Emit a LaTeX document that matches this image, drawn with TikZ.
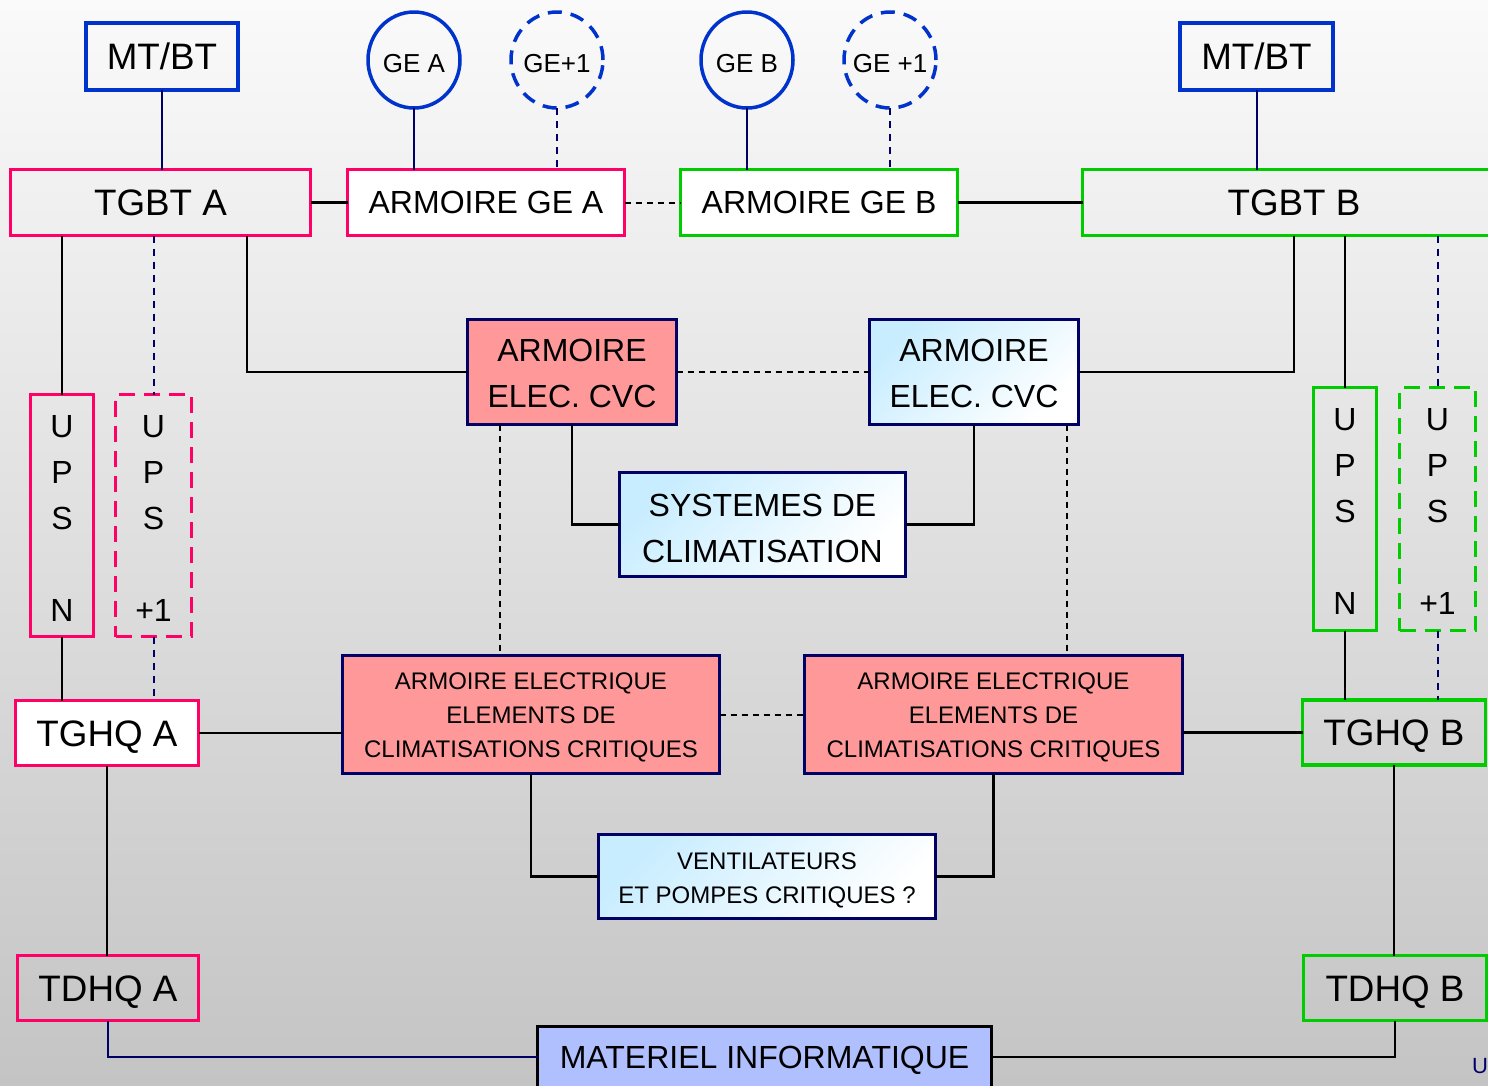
\documentclass[tikz,border=0pt]{standalone}
\usepackage{fontspec}
\setmainfont{Liberation Sans}
\usetikzlibrary{shapes.geometric,calc}
\definecolor{pinkc}{HTML}{FF0066}
\definecolor{greenc}{HTML}{00CC00}
\definecolor{bluec}{HTML}{0033CC}
\definecolor{navyc}{HTML}{000066}
\definecolor{salmonc}{HTML}{FF9999}
\definecolor{lightbluec}{HTML}{C8EDFF}
\definecolor{matc}{HTML}{B0C0FF}
\definecolor{bgtop}{HTML}{FAFAFA}
\definecolor{bgbot}{HTML}{C4C4C4}
\newcommand{\gtxt}[1]{\makebox[40pt][c]{\raisebox{-3pt}{#1}}}
\tikzset{
 every node/.style={inner sep=0pt, outer sep=0pt, align=center},
 box/.style={rectangle, line width=3.5pt},
 pinkbox/.style={box, draw=pinkc},
 greenbox/.style={box, draw=greenc},
 bluebox/.style={box, draw=bluec},
 navybox/.style={box, draw=navyc, line width=3pt},
 dashbox/.style={dash pattern=on 16pt off 9pt},
 gebub/.style={ellipse, draw=bluec, line width=3.5pt, minimum width=92pt, minimum height=96pt, font=\fontsize{26}{30}\selectfont, text height=18.6pt, text depth=0pt},
 gedash/.style={dash pattern=on 14pt off 9pt},
 bigtxt/.style={font=\fontsize{36.8}{44}\selectfont, text height=26.3pt, text depth=0pt},
 medone/.style={font=\fontsize{32}{46}\selectfont, text height=22.9pt, text depth=0pt},
 medtxt/.style={font=\fontsize{32}{46}\selectfont},
 smalltxt/.style={font=\fontsize{24}{34}\selectfont},
 wire/.style={line width=2.2pt, draw=black},
 nwire/.style={line width=2pt, draw=navyc},
 dwire/.style={line width=2pt, draw=black, dash pattern=on 6pt off 5pt},
 ndwire/.style={nwire, dash pattern=on 7pt off 6pt},
 skyfill/.style={top color=lightbluec, bottom color=white, shading angle=45},
}
\begin{document}
\begin{tikzpicture}[x=1pt,y=-1pt]
\useasboundingbox (0,0) rectangle (1488,1085);
\clip (0,0) rectangle (1488,1085);
\shade[top color=bgtop, bottom color=bgbot] (0,0) rectangle (1488,1085);

% top row
\node[bluebox, bigtxt, minimum width=152pt, minimum height=67pt] (mtA) at (162,56.5) {MT/BT};
\node[bluebox, bigtxt, minimum width=153pt, minimum height=67pt] (mtB) at (1256.5,56.5) {MT/BT};
\node[gebub] (geA) at (414,60) {\gtxt{GE A}};
\node[gebub, gedash] (ge1A) at (557,60) {\gtxt{GE+1}};
\node[gebub] (geB) at (747,60) {\gtxt{GE B}};
\node[gebub, gedash] (ge1B) at (890,60) {\gtxt{GE +1}};

\node[pinkbox, bigtxt, minimum width=300pt, minimum height=66pt] (tgbtA) at (160.5,202.5) {TGBT A};
\node[pinkbox, fill=white, medone, minimum width=277pt, minimum height=66pt] (armGeA) at (486,202.5) {ARMOIRE GE A};
\node[greenbox, fill=white, medone, minimum width=277pt, minimum height=66pt] (armGeB) at (819,202.5) {ARMOIRE GE B};
\node[greenbox, bigtxt, minimum width=423pt, minimum height=66pt] (tgbtB) at (1294,202.5) {TGBT B};

% CVC
\node[navybox, fill=salmonc, medtxt, minimum width=209pt, minimum height=105pt] (cvcA) at (572,372) {\rule{0pt}{25.5pt}ARMOIRE\\ELEC. CVC};
\node[navybox, skyfill, medtxt, minimum width=209pt, minimum height=105pt] (cvcB) at (974,372) {\rule{0pt}{25.5pt}ARMOIRE\\ELEC. CVC};
\node[navybox, skyfill, medtxt, minimum width=286pt, minimum height=104pt] (sys) at (762.5,524.5) {\rule{0pt}{29.5pt}SYSTEMES DE\\CLIMATISATION};

% UPS
\node[pinkbox, medtxt, minimum width=63pt, minimum height=242pt] (upsNA) at (62,515.5) {\rule{0pt}{27pt}U\\P\\S\\[46pt]N};
\node[pinkbox, dashbox, medtxt, minimum width=76pt, minimum height=242pt] (ups1A) at (153.5,515.5) {\rule{0pt}{27pt}U\\P\\S\\[46pt]+1};
\node[greenbox, medtxt, minimum width=63pt, minimum height=243pt] (upsNB) at (1345,509) {\rule{0pt}{27pt}U\\P\\S\\[46pt]N};
\node[greenbox, dashbox, medtxt, minimum width=76pt, minimum height=243pt] (ups1B) at (1437.5,509) {\rule{0pt}{27pt}U\\P\\S\\[46pt]+1};

% TGHQ
\node[pinkbox, fill=white, bigtxt, minimum width=183pt, minimum height=65pt] (tghqA) at (107,733) {TGHQ A};
\node[greenbox, bigtxt, minimum width=183pt, minimum height=65pt] (tghqB) at (1394,732.5) {TGHQ B};

% critical cabinets
\node[navybox, fill=salmonc, smalltxt, minimum width=377pt, minimum height=118pt] (aecA) at (531,714.5) {\rule{0pt}{23.5pt}ARMOIRE ELECTRIQUE\\ELEMENTS DE\\CLIMATISATIONS CRITIQUES};
\node[navybox, fill=salmonc, smalltxt, minimum width=378pt, minimum height=118pt] (aecB) at (993.5,714.5) {\rule{0pt}{23.5pt}ARMOIRE ELECTRIQUE\\ELEMENTS DE\\CLIMATISATIONS CRITIQUES};
\node[navybox, skyfill, smalltxt, minimum width=337pt, minimum height=84pt] (vent) at (767,876.5) {\rule{0pt}{24.5pt}VENTILATEURS\\ET POMPES CRITIQUES ?};

% TDHQ and IT
\node[pinkbox, bigtxt, minimum width=181pt, minimum height=65pt] (tdhqA) at (108,988) {TDHQ A};
\node[greenbox, bigtxt, minimum width=183pt, minimum height=65pt] (tdhqB) at (1395,988) {TDHQ B};
\node[box, draw=black, line width=3pt, fill=matc, medone, minimum width=454pt, minimum height=62pt] (mat) at (764.5,1057) {MATERIEL INFORMATIQUE};
\node[anchor=west, text=navyc, font=\fontsize{22}{26}\selectfont] (ulab) at (1472,1066) {U};

% coordinates for offset drops
\coordinate (tA3) at ([xshift=86.5pt]tgbtA.south);
\coordinate (dA) at ([xshift=-72pt]cvcA.south);
\coordinate (dB) at ([xshift=93pt]cvcB.south);

% top connectors
\draw[nwire] (mtA.south) -- (mtA.south |- tgbtA.north);
\draw[nwire] (mtB.south) -- (mtB.south |- tgbtB.north);
\draw[nwire] (geA.south) -- (geA.south |- armGeA.north);
\draw[ndwire] (ge1A.south) -- (ge1A.south |- armGeA.north);
\draw[nwire] (geB.south) -- (geB.south |- armGeB.north);
\draw[ndwire] (ge1B.south) -- (ge1B.south |- armGeB.north);
\draw[wire] (tgbtA.east) -- (armGeA.west);
\draw[dwire] (armGeA.east) -- (armGeB.west);
\draw[wire] (armGeB.east) -- (tgbtB.west);

% TGBT to UPS and CVC
\draw[wire] (upsNA.north |- tgbtA.south) -- (upsNA.north);
\draw[ndwire] (ups1A.north |- tgbtA.south) -- (ups1A.north);
\draw[wire] (tA3) |- (cvcA.west);
\draw[wire] (tgbtB.south) |- (cvcB.east);
\draw[wire] (upsNB.north |- tgbtB.south) -- (upsNB.north);
\draw[ndwire] (ups1B.north |- tgbtB.south) -- (ups1B.north);

% CVC links
\draw[dwire] (cvcA.east) -- (cvcB.west);
\draw[wire] (cvcA.south) |- (sys.west);
\draw[wire] (cvcB.south) |- (sys.east);
\draw[dwire] (dA) -- (dA |- aecA.north);
\draw[dwire] (dB) -- (dB |- aecB.north);

% UPS to TGHQ
\draw[wire] (upsNA.south) -- (upsNA.south |- tghqA.north);
\draw[ndwire] (ups1A.south) -- (ups1A.south |- tghqA.north);
\draw[wire] (upsNB.south) -- (upsNB.south |- tghqB.north);
\draw[ndwire] (ups1B.south) -- (ups1B.south |- tghqB.north);

% TGHQ to critical cabinets
\draw[wire] (tghqA.east) -- (tghqA.east -| aecA.west);
\draw[wire] (tghqB.west) -- (tghqB.west -| aecB.east);
\draw[dwire] (aecA.east) -- (aecB.west);
\draw[wire] (aecA.south) |- (vent.west);
\draw[wire] (aecB.south) |- (vent.east);

% TGHQ to TDHQ to IT
\draw[wire] (tghqA.south) -- (tghqA.south |- tdhqA.north);
\draw[wire] (tghqB.south) -- (tghqB.south |- tdhqB.north);
\draw[nwire] (tdhqA.south) |- (mat.west);
\draw[wire] (mat.east) -| (tdhqB.south);
\end{tikzpicture}
\end{document}
